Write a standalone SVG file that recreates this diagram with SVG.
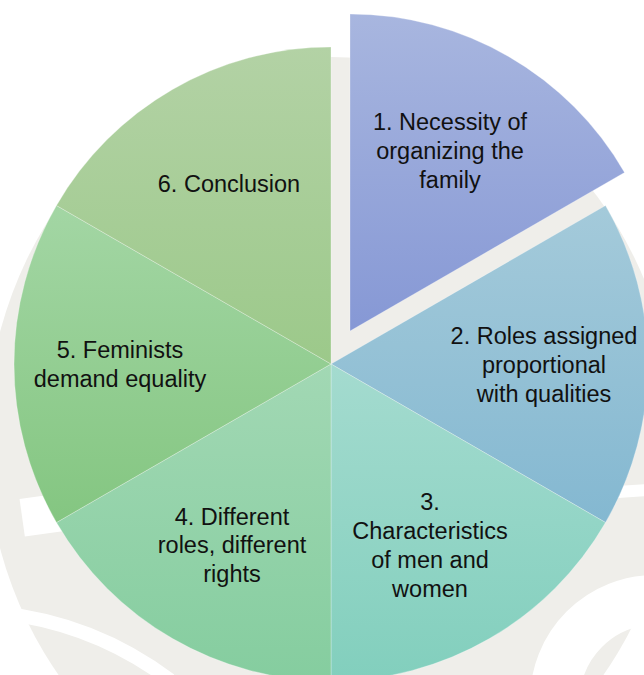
<svg xmlns="http://www.w3.org/2000/svg" width="644" height="675" viewBox="0 0 644 675">
  <style>
    .lbl { font-family: "Liberation Sans", Arial, sans-serif; font-size: 23.5px; fill: #111111; text-anchor: middle; }
    .slice { stroke: #ffffff; stroke-opacity: 0.35; stroke-width: 0.8; }
    .wm { fill: #efeeea; }
    .wmcut { fill: none; stroke: #ffffff; }
  </style>
  <defs>
    <linearGradient id="g1" x1="0" y1="0" x2="0" y2="1"><stop offset="0" stop-color="#a8b6df"/><stop offset="1" stop-color="#8698d5"/></linearGradient>
    <linearGradient id="g2" x1="0" y1="0" x2="0" y2="1"><stop offset="0" stop-color="#a4cada"/><stop offset="1" stop-color="#84b8d1"/></linearGradient>
    <linearGradient id="g3" x1="0" y1="0" x2="0" y2="1"><stop offset="0" stop-color="#a4dbcf"/><stop offset="1" stop-color="#82cfbd"/></linearGradient>
    <linearGradient id="g4" x1="0" y1="0" x2="0" y2="1"><stop offset="0" stop-color="#a2d8b4"/><stop offset="1" stop-color="#85cd9f"/></linearGradient>
    <linearGradient id="g5" x1="0" y1="0" x2="0" y2="1"><stop offset="0" stop-color="#a3d6a4"/><stop offset="1" stop-color="#84c681"/></linearGradient>
    <linearGradient id="g6" x1="0" y1="0" x2="0" y2="1"><stop offset="0" stop-color="#b3d2a5"/><stop offset="1" stop-color="#9cc98a"/></linearGradient>
  </defs>
  <rect width="644" height="675" fill="#ffffff"/>
  <g id="watermark">
    <ellipse class="wm" cx="331" cy="440" rx="345" ry="383"/>
    <path class="wmcut" stroke-width="12" d="M560,500 Q600,492 650,490"/>
    <circle class="wmcut" stroke-width="50" cx="655" cy="700" r="100"/>
    <path class="wmcut" stroke-width="14" d="M-10,612 Q90,620 170,680"/>
    <rect x="22" y="496" width="40" height="38" fill="#ffffff" transform="rotate(-8 42 515)"/>
  </g>
  <g id="connectors"/>
  <g id="node1">
    <path class="slice" fill="url(#g1)" d="M350,331 L350,14 A317,317 0 0 1 624.53,172.5 Z"/>
    <text class="lbl" x="450" y="130">1. Necessity of</text>
    <text class="lbl" x="450" y="159">organizing the</text>
    <text class="lbl" x="450" y="188">family</text>
  </g>
  <g id="node2">
    <path class="slice" fill="url(#g2)" d="M331,364 L605.53,205.5 A317,317 0 0 1 605.53,522.5 Z"/>
    <text class="lbl" x="544" y="344">2. Roles assigned</text>
    <text class="lbl" x="544" y="373">proportional</text>
    <text class="lbl" x="544" y="402">with qualities</text>
  </g>
  <g id="node3">
    <path class="slice" fill="url(#g3)" d="M331,364 L605.53,522.5 A317,317 0 0 1 331,681 Z"/>
    <text class="lbl" x="430" y="510">3.</text>
    <text class="lbl" x="430" y="539">Characteristics</text>
    <text class="lbl" x="430" y="568">of men and</text>
    <text class="lbl" x="430" y="597">women</text>
  </g>
  <g id="node4">
    <path class="slice" fill="url(#g4)" d="M331,364 L331,681 A317,317 0 0 1 56.47,522.5 Z"/>
    <text class="lbl" x="232" y="525">4. Different</text>
    <text class="lbl" x="232" y="553">roles, different</text>
    <text class="lbl" x="232" y="582">rights</text>
  </g>
  <g id="node5">
    <path class="slice" fill="url(#g5)" d="M331,364 L56.47,522.5 A317,317 0 0 1 56.47,205.5 Z"/>
    <text class="lbl" x="120" y="358">5. Feminists</text>
    <text class="lbl" x="120" y="387">demand equality</text>
  </g>
  <g id="node6">
    <path class="slice" fill="url(#g6)" d="M331,364 L56.47,205.5 A317,317 0 0 1 331,47 Z"/>
    <text class="lbl" x="229" y="192">6. Conclusion</text>
  </g>
</svg>
